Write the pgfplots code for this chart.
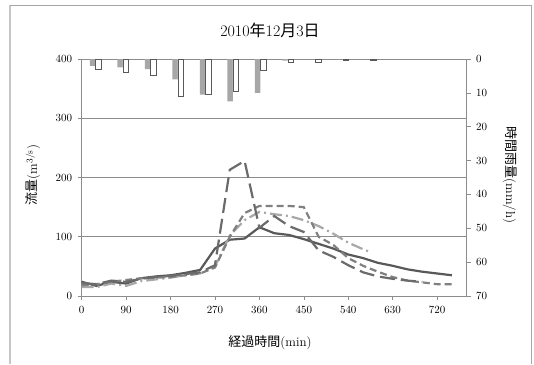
\documentclass[border=0pt]{standalone}
\usepackage{pgfplots}
\pgfplotsset{compat=1.18}
\usepackage{fontspec}
\newfontfamily\cjk{Noto Sans CJK JP}
\definecolor{cA}{HTML}{595959}
\definecolor{cB}{HTML}{6B6B6B}
\definecolor{cC}{HTML}{808080}
\definecolor{cD}{HTML}{A8A8A8}
\definecolor{axgray}{HTML}{8C8C8C}
\begin{document}
\begin{tikzpicture}[x=1pt,y=1pt]
\path[use as bounding box] (0,0) rectangle (534,364);
\draw[gray!45, line width=2pt] (10,0) -- (10,359);
\draw[gray!70, line width=0.8pt] (10,359) -- (531,359) -- (531,0);
\begin{axis}[
  at={(81.7pt,68pt)}, anchor=south west,
  width=385pt, height=237pt, scale only axis,
  xmin=0, xmax=780, ymin=0, ymax=400,
  xtick={0,90,...,720}, ytick={0,100,...,400},
  axis x line*=bottom, axis y line*=left,
  ymajorgrids, grid style={axgray, line width=0.6pt},
  axis line style={axgray, line width=0.8pt},
  tick style={axgray, line width=0.6pt},
  tick align=outside, major tick length=4pt,
  tick label style={font=\fontsize{11}{13}\selectfont, black},
  yticklabel style={xshift=-2pt},
  xticklabel style={yshift=-3pt},
  clip=false,
]
\addplot[cA, line width=2.2pt] coordinates {
(0,24)(30,17)(60,24)(90,21)(120,30)(150,33)(180,35)(210,39)(240,44)(270,80)(300,95)(330,97)(360,116)(390,106)(420,103)(450,96)(480,88)(510,80)(540,70)(570,64)(600,56)(630,51)(660,45)(690,41)(720,38)(750,35)};
\addplot[cD, line width=2.2pt, dash pattern=on 12pt off 4pt on 2pt off 4pt] coordinates {
(0,15)(30,15)(60,21)(90,17)(120,25)(150,28)(180,31)(210,35)(240,38)(270,50)(300,102)(330,128)(360,142)(390,138)(420,135)(450,128)(480,118)(510,105)(540,90)(570,79)(585,74)};
\addplot[cC, line width=2.2pt, dash pattern=on 7pt off 4pt] coordinates {
(0,18)(30,20)(60,24)(90,27)(120,30)(150,31)(180,32)(210,35)(240,38)(270,48)(300,100)(330,140)(360,152)(390,152)(420,152)(450,150)(480,100)(510,86)(540,64)(570,51)(600,41)(630,32)(660,26)(690,23)(720,20)(750,20)};
\addplot[cB, line width=2.2pt, dash pattern=on 15pt off 6pt] coordinates {
(0,22)(30,20)(60,26)(90,24)(120,29)(150,32)(180,34)(210,37)(240,40)(270,52)(300,213)(330,228)(360,115)(390,135)(420,118)(450,108)(480,77)(510,66)(540,52)(570,40)(600,33)(630,29)(660,26)(690,24)};
\end{axis}
\begin{axis}[
  at={(81.7pt,68pt)}, anchor=south west,
  width=385pt, height=237pt, scale only axis,
  xmin=0, xmax=14, ymin=0, ymax=70, y dir=reverse,
  axis x line=none, axis y line*=right,
  ytick={0,10,...,70},
  axis line style={axgray, line width=0.8pt},
  tick style={axgray, line width=0.6pt},
  tick align=outside, major tick length=4pt,
  tick label style={font=\fontsize{11}{13}\selectfont, black},
  yticklabel style={xshift=2pt},
  ybar=0pt, bar width=5.5pt,
]
\addplot[fill=gray!85!black!60, draw=none] coordinates {
(0.5,2)(1.5,2.5)(2.5,3)(3.5,6)(4.5,10.5)(5.5,12.5)(6.5,10)(7.5,0.5)(8.5,0)(9.5,0)(10.5,0)};
\addplot[fill=white, draw=cA, line width=0.9pt] coordinates {
(0.5,3)(1.5,4)(2.5,5)(3.5,11)(4.5,10.5)(5.5,9.5)(6.5,3.5)(7.5,1)(8.5,1)(9.5,0.5)(10.5,0.5)};
\end{axis}
\node[font=\fontsize{16}{18}\selectfont] at (270,334) {2010{\cjk 年}12{\cjk 月}3{\cjk 日}};
\node[font=\fontsize{13}{15}\selectfont] at (270,21) {{\cjk 経過時間}(min)};
\node[font=\fontsize{13}{15}\selectfont, rotate=90] at (33,189) {{\cjk 流量}(m\textsuperscript{3/s})};
\node[font=\fontsize{13}{15}\selectfont, rotate=-90] at (510,189) {{\cjk 時間雨量}(mm/h)};
\end{tikzpicture}
\end{document}
